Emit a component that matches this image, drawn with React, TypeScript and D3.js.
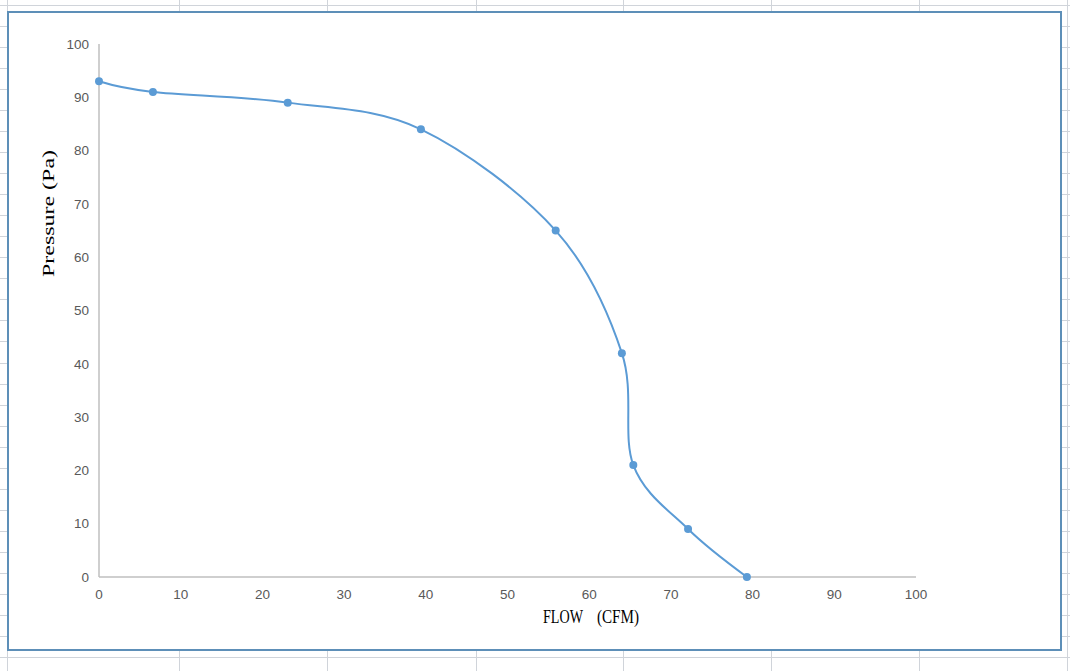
import React from "react";
import * as d3 from "d3";

// values
const flow = [0, 6.6, 23.1, 39.4, 55.9, 64.0, 65.4, 72.1, 79.3];
const pressure = [93, 91, 89, 84, 65, 42, 21, 9, 0];
const xTicks = [0, 10, 20, 30, 40, 50, 60, 70, 80, 90, 100];
const yTicks = [0, 10, 20, 30, 40, 50, 60, 70, 80, 90, 100];

const W = 1070;
const H = 671;

// spreadsheet grid behind the chart
const colLines = [7, 179, 327, 476, 623, 771, 919, 1067];
const rowLines = d3.range(0, 32).map((k) => 5 + k * 21.03);

export default function App() {
  const margin = { left: 99, right: W - 916, top: 44, bottom: H - 577 };
  const x = d3.scaleLinear().domain([0, 100]).range([margin.left, W - margin.right]);
  const y = d3.scaleLinear().domain([0, 100]).range([H - margin.bottom, margin.top]);

  const pts = flow.map((f, i) => [f, pressure[i]] as [number, number]);
  const line = d3
    .line<[number, number]>()
    .x((d) => x(d[0]))
    .y((d) => y(d[1]))
    .curve(d3.curveCardinal.tension(0));

  const axisColor = "#bfbfbf";
  const tickColor = "#595959";
  const tickFont = "'Liberation Sans', Arial, sans-serif";
  const titleFont = "'Liberation Serif', 'DejaVu Serif', serif";

  return (
    <svg
      width={W}
      height={H}
      style={{ position: "absolute", left: 0, top: 0, background: "#fff" }}
    >
      <g stroke="#d0d4da" strokeWidth={1}>
        {colLines.map((c) => (
          <line key={"c" + c} x1={c + 0.5} x2={c + 0.5} y1={0} y2={H} />
        ))}
        {rowLines.map((r) => (
          <line key={"r" + r} x1={0} x2={W} y1={Math.round(r) + 0.5} y2={Math.round(r) + 0.5} />
        ))}
      </g>

      {/* chart frame */}
      <rect x={8} y={12} width={1053} height={638} fill="#fff" stroke="#5d8fb8" strokeWidth={2} />

      {/* axes */}
      <line x1={x(0)} x2={x(0)} y1={y(0)} y2={y(100)} stroke={axisColor} strokeWidth={1.5} />
      <line x1={x(0)} x2={x(100)} y1={y(0)} y2={y(0)} stroke={axisColor} strokeWidth={1.5} />

      {yTicks.map((t) => (
        <text
          key={"y" + t}
          x={x(0) - 10}
          y={y(t)}
          dy="0.35em"
          textAnchor="end"
          fontFamily={tickFont}
          fontSize={13.5}
          fill={tickColor}
        >
          {t}
        </text>
      ))}
      {xTicks.map((t) => (
        <text
          key={"x" + t}
          x={x(t)}
          y={y(0) + 22}
          textAnchor="middle"
          fontFamily={tickFont}
          fontSize={13.5}
          fill={tickColor}
        >
          {t}
        </text>
      ))}

      <text y={623} fontFamily={titleFont} fontSize={18} fill="#000">
        <tspan x={543} textLength={40} lengthAdjust="spacingAndGlyphs">FLOW</tspan>
        <tspan x={597} textLength={42} lengthAdjust="spacingAndGlyphs">(CFM)</tspan>
      </text>
      <text
        transform={`translate(54, 277) rotate(-90)`}
        fontFamily={titleFont}
        fontSize={17}
        textLength={127}
        lengthAdjust="spacingAndGlyphs"
        fill="#000"
      >
        Pressure (Pa)
      </text>

      <path d={line(pts) || ""} fill="none" stroke="#5b9bd5" strokeWidth={2} />
      {pts.map((p, i) => (
        <circle key={i} cx={x(p[0])} cy={y(p[1])} r={4} fill="#5b9bd5" />
      ))}
    </svg>
  );
}
